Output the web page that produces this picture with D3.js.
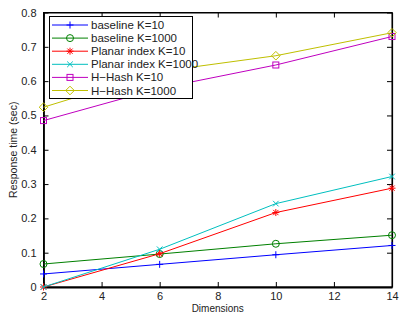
<!DOCTYPE html>
<html><head><meta charset="utf-8">
<script src="https://cdn.jsdelivr.net/npm/d3@7"></script>
<style>body{margin:0;background:#fff;} text{font-family:"Liberation Sans",Arial,sans-serif;}</style>
</head><body>
<svg id="c" width="399" height="320"></svg>
<script>
const dims = [2, 6, 10, 14];
const seriesNames = ["baseline K=10","baseline K=1000","Planar index K=10","Planar index K=1000","H\u2212Hash K=10","H\u2212Hash K=1000"];
const baselineK10 = [0.038, 0.066, 0.094, 0.121];
const baselineK1000 = [0.067, 0.096, 0.126, 0.151];
const planarK10 = [0.0, 0.097, 0.217, 0.288];
const planarK1000 = [0.0, 0.110, 0.243, 0.322];
const hhashK10 = [0.485, 0.579, 0.647, 0.730];
const hhashK1000 = [0.524, 0.628, 0.674, 0.741];
const colors = ["#0000ff","#008000","#ff0000","#00bfbf","#bf00bf","#bfbf00"];
const markers = ["plus","circle","star","cross","square","diamond"];
const xTicks = [2,4,6,8,10,12,14];
const yTicks = [0,0.1,0.2,0.3,0.4,0.5,0.6,0.7,0.8];
const allSeries = [baselineK10, baselineK1000, planarK10, planarK1000, hhashK10, hhashK1000];

const svg = d3.select("#c");
const L=43.5, R=392, T=12.5, B=287;
const x = d3.scaleLinear().domain([2,14]).range([L,R]);
const y = d3.scaleLinear().domain([0,0.8]).range([B,T]);

const g = svg.append("g");
g.append("rect").attr("x",L).attr("y",T).attr("width",R-L).attr("height",B-T)
 .attr("fill","none").attr("stroke","#000").attr("stroke-width",1);

const tickLen=5;
const xb = d3.axisBottom(x).tickValues(xTicks).tickSizeInner(-tickLen).tickSizeOuter(0).tickPadding(5).tickFormat(d3.format("d"));
const xt = d3.axisTop(x).tickValues(xTicks).tickSizeInner(-tickLen).tickSizeOuter(0).tickFormat("");
const yl = d3.axisLeft(y).tickValues(yTicks).tickSizeInner(-tickLen).tickSizeOuter(0).tickPadding(7).tickFormat(d=>d===0?"0":d3.format(".1f")(d));
const yr = d3.axisRight(y).tickValues(yTicks).tickSizeInner(-tickLen).tickSizeOuter(0).tickFormat("");
function style(sel){sel.select(".domain").attr("stroke","#000");sel.selectAll("line").attr("stroke","#000");sel.selectAll("text").attr("font-size",11).attr("fill","#222").attr("font-family","Liberation Sans, Arial, sans-serif");}
const gb = g.append("g").attr("transform",`translate(0,${B})`).call(xb).call(style);
g.append("g").attr("transform",`translate(0,${T})`).call(xt).call(style);
const gl = g.append("g").attr("transform",`translate(${L},0)`).call(yl).call(style);
g.append("g").attr("transform",`translate(${R},0)`).call(yr).call(style);
g.selectAll(".domain").attr("stroke-width",1.2);
gb.select(".domain").attr("stroke-width",1.8);
gl.select(".domain").attr("stroke-width",1.8);

svg.append("text").attr("x",(L+R)/2).attr("y",312).attr("text-anchor","middle").attr("font-size",10).attr("fill","#222").text("Dimensions");
svg.append("text").attr("transform",`translate(17,${(T+B)/2}) rotate(-90)`).attr("text-anchor","middle").attr("font-size",10.5).attr("fill","#222").text("Response time (sec)");

function drawMarker(sel, type, cx, cy, color){
  const s=3.5;
  if(type==="plus"){
    sel.append("path").attr("d",`M${cx-s},${cy}H${cx+s}M${cx},${cy-s}V${cy+s}`).attr("stroke",color).attr("fill","none");
  } else if(type==="circle"){
    sel.append("circle").attr("cx",cx).attr("cy",cy).attr("r",s).attr("stroke",color).attr("fill","none");
  } else if(type==="star"){
    const d=s*0.75;
    sel.append("path").attr("d",`M${cx-s},${cy}H${cx+s}M${cx},${cy-s}V${cy+s}M${cx-d},${cy-d}L${cx+d},${cy+d}M${cx-d},${cy+d}L${cx+d},${cy-d}`).attr("stroke",color).attr("fill","none");
  } else if(type==="cross"){
    const d=s*0.8;
    sel.append("path").attr("d",`M${cx-d},${cy-d}L${cx+d},${cy+d}M${cx-d},${cy+d}L${cx+d},${cy-d}`).attr("stroke",color).attr("fill","none");
  } else if(type==="square"){
    sel.append("rect").attr("x",cx-s+0.5).attr("y",cy-s+0.5).attr("width",2*s-1).attr("height",2*s-1).attr("stroke",color).attr("fill","none");
  } else if(type==="diamond"){
    const d=s+0.8;
    sel.append("path").attr("d",`M${cx},${cy-d}L${cx+d},${cy}L${cx},${cy+d}L${cx-d},${cy}Z`).attr("stroke",color).attr("fill","none");
  }
}

const line = d3.line().x((d,i)=>x(dims[i])).y(d=>y(d));
allSeries.forEach((vals,si)=>{
  const sg = svg.append("g");
  sg.append("path").attr("d",line(vals)).attr("fill","none").attr("stroke",colors[si]).attr("stroke-width",1);
  vals.forEach((v,i)=>drawMarker(sg, markers[si], x(dims[i]), y(v), colors[si]));
});

const lg = svg.append("g");
lg.append("rect").attr("x",49.5).attr("y",16.5).attr("width",143).attr("height",82).attr("fill","#fff").attr("stroke","#000").attr("stroke-width",1);
seriesNames.forEach((n,i)=>{
  const yy = 25 + i*13.1;
  lg.append("line").attr("x1",52).attr("x2",88).attr("y1",yy).attr("y2",yy).attr("stroke",colors[i]);
  drawMarker(lg, markers[i], 70, yy, colors[i]);
  lg.append("text").attr("x",91).attr("y",yy+4).attr("font-size",11.5).attr("fill","#222").text(n);
});
</script>
</body></html>
